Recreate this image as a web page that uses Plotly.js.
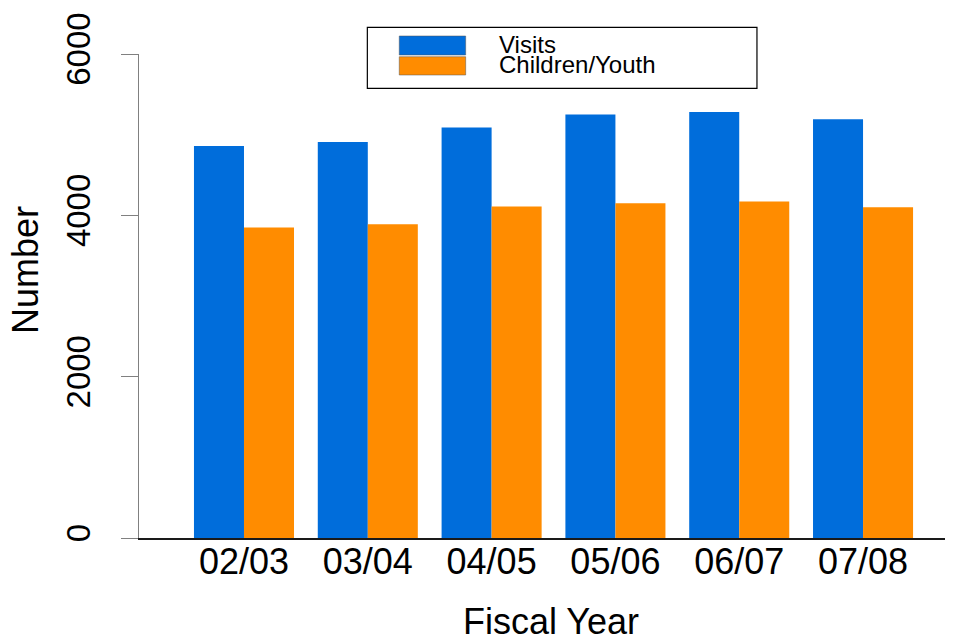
<!DOCTYPE html>
<html><head><meta charset="utf-8">
<script src="https://cdn.plot.ly/plotly-3.0.1.min.js"></script>
<style>html,body{margin:0;padding:0;background:#fff}#chart{width:961px;height:643px}</style>
</head><body><div id="chart"></div>
<script>
const fiscalYears = ['02/03','03/04','04/05','05/06','06/07','07/08'];
const visits = [4860,4910,5090,5250,5280,5190];
const childrenYouth = [3850,3890,4110,4150,4170,4100];
const seriesNames = ['Visits','Children/Youth'];
const seriesColors = ['#006DDB','#FF8C00'];
const yTicks = [0,2000,4000,6000];
const xTitle = 'Fiscal Year';
const yTitle = 'Number';

const FONT = 'Liberation Sans, Arial, Helvetica, sans-serif';

const traces = [visits, childrenYouth].map((vals, i) => ({
  type: 'bar', x: fiscalYears, y: vals, name: seriesNames[i],
  marker: {color: seriesColors[i], line: {width: 0}},
  hoverinfo: 'none', showlegend: false
}));

// custom legend (R-style box)
const lx0 = 0.2833, lx1 = 0.7667, ly0 = 0.9291, ly1 = 1.0552;
const sw = [[1.0372, 0.9979],[0.9944, 0.9566]];
const shapes = [
  {type:'rect', xref:'paper', yref:'paper', x0:lx0, x1:lx1, y0:ly0, y1:ly1,
   line:{color:'#000', width:1.2}, fillcolor:'rgba(0,0,0,0)'}
];
const annotations = [];
seriesNames.forEach((nm, i) => {
  shapes.push({type:'rect', xref:'paper', yref:'paper', x0:0.3229, x1:0.4053,
    y0:sw[i][1], y1:sw[i][0], line:{color:'#555', width:0.5}, fillcolor:seriesColors[i]});
  annotations.push({xref:'paper', yref:'paper', x:0.4446, y:[1.0196,0.9773][i],
    xanchor:'left', yanchor:'middle', showarrow:false, text:nm,
    font:{family:FONT, size:24, color:'#000'}});
});
annotations.push({xref:'paper', yref:'paper', x:(551-139)/806, y:(538-621)/484,
  xanchor:'center', yanchor:'middle', showarrow:false, text:xTitle,
  font:{family:FONT, size:36, color:'#000'}});
annotations.push({xref:'paper', yref:'paper', x:(25-139)/806, y:(538-270)/484,
  xanchor:'center', yanchor:'middle', showarrow:false, text:yTitle, textangle:-90,
  font:{family:FONT, size:36, color:'#000'}});

const layout = {
  width: 961, height: 643,
  margin: {l:139, r:16, t:54, b:105, pad:0},
  paper_bgcolor:'#fff', plot_bgcolor:'#fff',
  barmode:'group', bargap:0.192, bargroupgap:0,
  font:{family:FONT, color:'#000'},
  xaxis:{type:'category', range:[-0.848, 5.662], showline:true, linecolor:'#1a1a1a', linewidth:1.5,
    ticks:'', showgrid:false, zeroline:false, ticklabelstandoff:-9,
    tickfont:{family:FONT, size:36, color:'#000'}, fixedrange:true},
  yaxis:{range:[0,6000], tickvals:yTicks, ticktext:yTicks.map(String), ticks:'outside', ticklen:17,
    tickcolor:'#808080', tickwidth:1, showline:true, linecolor:'#808080', linewidth:1,
    showgrid:false, zeroline:false, tickangle:-90, ticklabelstandoff:18,
    tickfont:{family:FONT, size:33, color:'#000'}, fixedrange:true},
  shapes: shapes, annotations: annotations, showlegend:false, hovermode:false
};
Plotly.newPlot('chart', traces, layout, {displayModeBar:false, staticPlot:true});
</script></body></html>
